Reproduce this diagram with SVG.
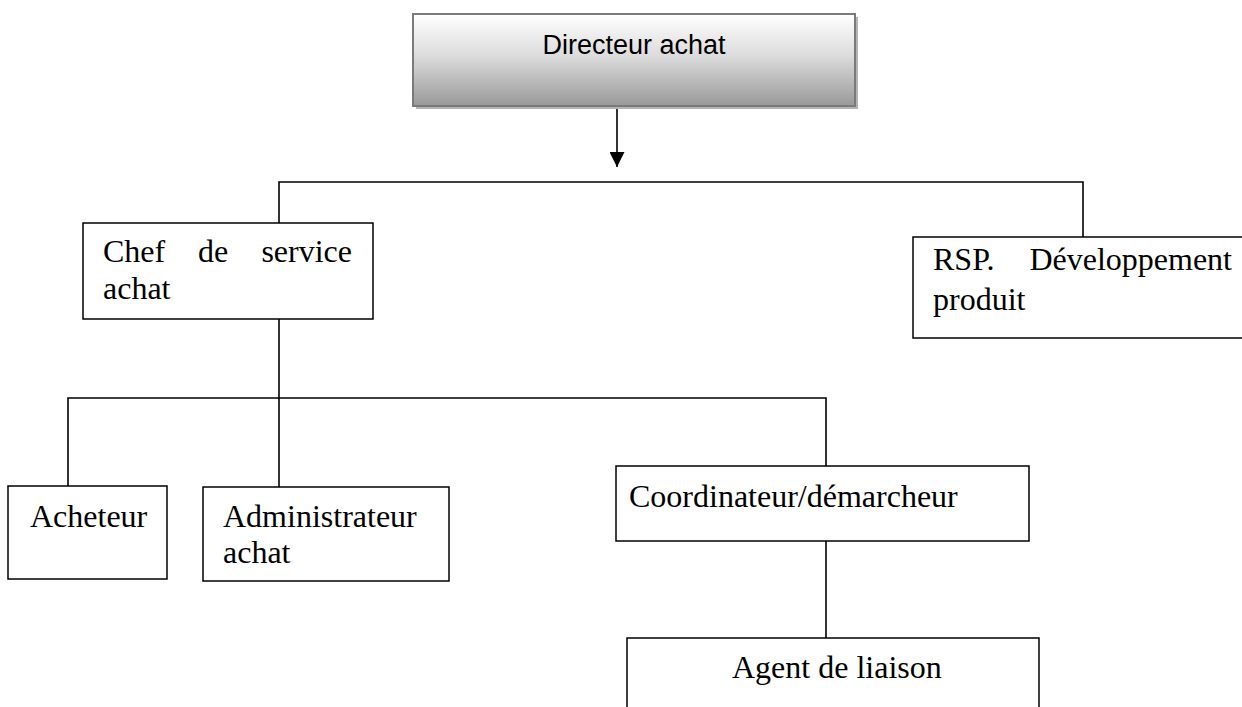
<svg xmlns="http://www.w3.org/2000/svg" width="1242" height="707" viewBox="0 0 1242 707">
<style>
.box{fill:#fff;stroke:#000;stroke-width:1.5}
.t{font-family:"Liberation Serif","Times New Roman",serif;font-size:32px;fill:#000}
.ln{fill:none;stroke:#000;stroke-width:1.6}
</style>
<defs>
<linearGradient id="g" x1="0" y1="0" x2="0" y2="1">
<stop offset="0" stop-color="#ffffff"/>
<stop offset="0.45" stop-color="#dcdcdc"/>
<stop offset="1" stop-color="#999999"/>
</linearGradient>
<marker id="arr" viewBox="0 0 10 10" refX="10" refY="5" markerWidth="15" markerHeight="15" markerUnits="userSpaceOnUse" orient="auto">
<path d="M0,0 L10,5 L0,10 Z" fill="#000"/>
</marker>
</defs>
<rect width="1242" height="707" fill="#fff"/>
<g id="connectors">
<line class="ln" x1="617" y1="106" x2="617" y2="167" marker-end="url(#arr)"/>
<polyline class="ln" points="279,223 279,182 1083,182 1083,237"/>
<line class="ln" x1="279" y1="319" x2="279" y2="487"/>
<polyline class="ln" points="68,486 68,398 826,398 826,466"/>
<line class="ln" x1="826" y1="541" x2="826" y2="638"/>
</g>
<g id="directeur">
<rect x="416" y="17" width="442" height="92" fill="#b4b4b4"/>
<rect x="413" y="14" width="442" height="92" fill="url(#g)" stroke="#7a7a7a" stroke-width="2"/>
<text x="634" y="54" text-anchor="middle" font-family="Liberation Sans, Arial, sans-serif" font-size="27" fill="#000">Directeur achat</text>
</g>
<g id="chef">
<rect class="box" x="83" y="223" width="290" height="96"/>
<text class="t" x="103" y="262">Chef</text>
<text class="t" x="198" y="262">de</text>
<text class="t" x="352" y="262" text-anchor="end">service</text>
<text class="t" x="103" y="299">achat</text>
</g>
<g id="rsp">
<rect class="box" x="913" y="237" width="340" height="101"/>
<text class="t" x="933" y="270">RSP.</text>
<text class="t" x="1232" y="270" text-anchor="end">Développement</text>
<text class="t" x="933" y="310">produit</text>
</g>
<g id="acheteur">
<rect class="box" x="8" y="486" width="159" height="93"/>
<text class="t" x="30" y="527">Acheteur</text>
</g>
<g id="administrateur">
<rect class="box" x="203" y="487" width="246" height="94"/>
<text class="t" x="223" y="527">Administrateur</text>
<text class="t" x="223" y="563">achat</text>
</g>
<g id="coordinateur">
<rect class="box" x="616" y="466" width="413" height="75"/>
<text class="t" x="629" y="507">Coordinateur/démarcheur</text>
</g>
<g id="agent">
<rect class="box" x="627" y="638" width="412" height="100"/>
<text class="t" x="732" y="678">Agent de liaison</text>
</g>
</svg>
